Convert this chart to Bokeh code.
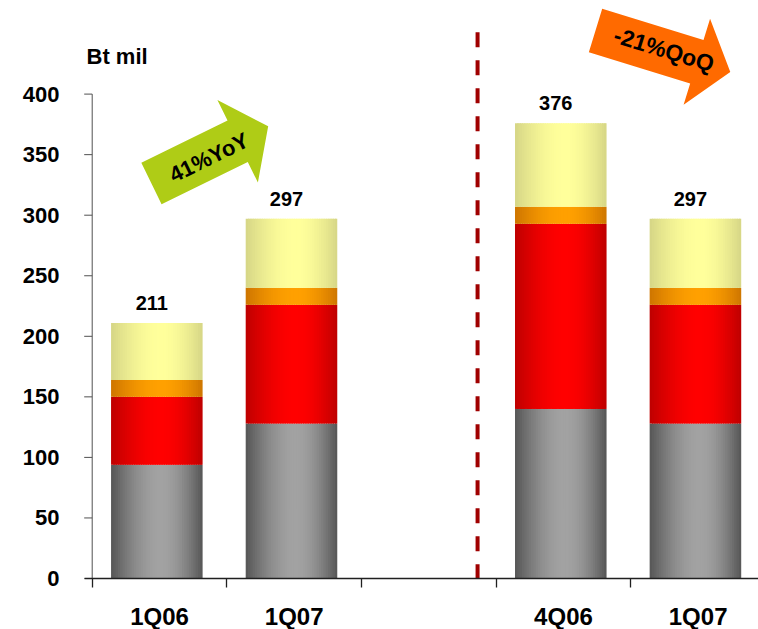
import math

from bokeh.core.properties import value
from bokeh.embed import file_html
from bokeh.models import FixedTicker, Label, Range1d
from bokeh.plotting import figure
from bokeh.resources import INLINE

# ---- data -------------------------------------------------------------
slot_labels = ["1Q06", "1Q07", "", "4Q06", "1Q07"]   # axis slots (3rd is a gap)
bar_slots = [0, 1, 3, 4]                               # slot used by each bar
seg_gray = [94, 128, 140, 128]
seg_red = [56, 98, 153, 98]
seg_orange = [14, 14, 14, 14]
seg_yellow = [47, 57, 69, 57]
totals = [211, 297, 376, 297]
y_ticks = [0, 50, 100, 150, 200, 250, 300, 350, 400]
unit_text = "Bt mil"
yoy_text = "41%YoY"
qoq_text = "-21%QoQ"

# ---- layout -----------------------------------------------------------
KX = 134.65                   # pixels per category slot
KY = 1.211                    # pixels per Bt mil
FRAME_LEFT = 78
FRAME_W, FRAME_H = 758 - FRAME_LEFT, 578
X_START = -13.7 / KX          # leave room left of the value axis line
X_END = X_START + FRAME_W / KX
Y_END = FRAME_H / KY
TICK_LEN = 8 / KX
FONT = "Liberation Sans"
BAR_W = 0.68
BAR_SHIFT = -0.02
DIVIDER_X = 2.862

p = figure(
    frame_width=FRAME_W, frame_height=FRAME_H,
    x_range=Range1d(X_START, X_END), y_range=Range1d(0, Y_END),
    output_backend="svg", toolbar_location=None,
    min_border_left=FRAME_LEFT, min_border_right=0, min_border_top=0,
    min_border_bottom=629 - FRAME_H,
)
p.outline_line_color = None
p.xgrid.visible = False
p.ygrid.visible = False
p.background_fill_color = "white"
p.border_fill_color = "white"


# ---- stacked bars with a cylinder-like horizontal shading ---------------
def mix(c0, c1, w):
    return "#%02x%02x%02x" % tuple(round(a + (b - a) * w) for a, b in zip(c0, c1))


def shade(edge, mid, t, peak=0.55):
    u = t / peak if t <= peak else (1 - t) / (1 - peak)
    return mix(edge, mid, math.sin(max(0.0, min(1.0, u)) * math.pi / 2))


palette = [
    (seg_gray, (86, 86, 86), (162, 162, 162)),
    (seg_red, (190, 0, 0), (255, 0, 0)),
    (seg_orange, (206, 118, 0), (255, 160, 0)),
    (seg_yellow, (214, 214, 134), (255, 255, 155)),
]
N_STRIPS = 40
bottoms = [0] * len(totals)
for values, edge, mid in palette:
    L, R, B, T, C = [], [], [], [], []
    for i, v in enumerate(values):
        left = bar_slots[i] + 0.5 + BAR_SHIFT - BAR_W / 2
        step = BAR_W / N_STRIPS
        for k in range(N_STRIPS):
            L.append(left + k * step)
            R.append(min(left + (k + 1.6) * step, left + BAR_W))
            B.append(bottoms[i])
            T.append(bottoms[i] + v)
            C.append(shade(edge, mid, (k + 0.5) / N_STRIPS))
        bottoms[i] += v
    p.quad(left=L, right=R, bottom=B, top=T, fill_color=C, line_color=None)

# total labels above each bar
centers = [s + 0.5 + BAR_SHIFT for s in bar_slots]
p.text(
    x=centers, y=totals, text=[str(t) for t in totals],
    text_align="center", text_baseline="alphabetic",
    x_offset=-5, y_offset=-20,
    text_font=value(FONT), text_font_style="bold",
    text_font_size=value("20px"), text_color="black",
)

# dashed divider between the YoY and QoQ comparisons
p.line(x=[DIVIDER_X, DIVIDER_X], y=[451, 0], line_color="#A00000",
       line_width=4, line_dash="15 13", line_cap="butt")


# ---- callout arrows ---------------------------------------------------
def arrow(x0, y0, deg, length, head_at, shaft_half, head_half):
    a = math.radians(deg)
    ux, uy = math.cos(a), math.sin(a)
    vx, vy = -uy, ux
    pts = [
        (shaft_half * vx, shaft_half * vy),
        (head_at * ux + shaft_half * vx, head_at * uy + shaft_half * vy),
        (head_at * ux + head_half * vx, head_at * uy + head_half * vy),
        (length * ux, length * uy),
        (head_at * ux - head_half * vx, head_at * uy - head_half * vy),
        (head_at * ux - shaft_half * vx, head_at * uy - shaft_half * vy),
        (-shaft_half * vx, -shaft_half * vy),
    ]
    return [x0 + px / KX for px, _ in pts], [y0 + py / KY for _, py in pts]


def along(x0, y0, deg, dist, off):
    a = math.radians(deg)
    ux, uy = math.cos(a), math.sin(a)
    vx, vy = -uy, ux
    return x0 + (dist * ux + off * vx) / KX, y0 + (dist * uy + off * vy) / KY


callouts = [
    # tail x, tail y, angle, length, head start, shaft/2, head/2, colour, text, size
    (0.440, 326.2, 26.1, 130, 96, 23, 46, "#AFCC16", yoy_text, "22px", 63, -2),
    (3.738, 452.5, -17.1, 141, 106, 22.7, 45, "#FF6A00", qoq_text, "23px", 71, 2),
]
for x0, y0, deg, ln, hd, hs, hh, col, txt, fs, tpos, toff in callouts:
    xs, ys = arrow(x0, y0, deg, ln, hd, hs, hh)
    p.patch(xs, ys, fill_color=col, line_color=None)
    tx, ty = along(x0, y0, deg, tpos, toff)
    p.text(x=[tx], y=[ty], text=[txt], angle=math.radians(deg),
           text_align="center", text_baseline="middle",
           text_font=value(FONT), text_font_style="bold",
           text_font_size=value(fs), text_color="black")

# unit caption above the value axis
p.add_layout(Label(x=-0.042, y=431, text=unit_text, text_align="left",
                   text_baseline="alphabetic", text_font=FONT,
                   text_font_style="bold", text_font_size="22px",
                   text_color="black"))

# ---- axes -------------------------------------------------------------
# value axis: labels from the axis, line and ticks drawn at x = 0
ya = p.yaxis[0]
ya.ticker = FixedTicker(ticks=y_ticks)
ya.axis_line_color = None
ya.major_tick_line_color = None
ya.minor_tick_line_color = None
ya.major_tick_out = 0
ya.major_tick_in = 0
ya.major_label_standoff = 19
ya.major_label_text_font = FONT
ya.major_label_text_font_style = "bold"
ya.major_label_text_font_size = "22px"
ya.major_label_text_color = "black"
p.segment(x0=[0], y0=[0], x1=[0], y1=[y_ticks[-1]], line_color="#505050",
          line_width=1)
p.segment(x0=[-TICK_LEN] * len(y_ticks), y0=y_ticks,
          x1=[0] * len(y_ticks), y1=y_ticks, line_color="#505050", line_width=1)

# category axis: names at slot centres, tick marks on slot borders
xa = p.xaxis[0]
label_pos = [i + 0.5 for i, s in enumerate(slot_labels) if s]
xa.ticker = FixedTicker(ticks=label_pos,
                        minor_ticks=list(range(len(slot_labels) + 1)))
xa.major_label_overrides = {i + 0.5: s for i, s in enumerate(slot_labels) if s}
xa.bounds = (-TICK_LEN, X_END)
xa.axis_line_color = "#202020"
xa.axis_line_width = 1.3
xa.major_tick_line_color = None
xa.major_tick_out = 0
xa.major_tick_in = 0
xa.minor_tick_out = 9
xa.minor_tick_in = 0
xa.minor_tick_line_color = "#202020"
xa.minor_tick_line_width = 1.3
xa.major_label_standoff = 15
xa.major_label_text_font = FONT
xa.major_label_text_font_style = "bold"
xa.major_label_text_font_size = "24px"
xa.major_label_text_color = "black"

open("out.html", "w").write(file_html(p, INLINE))
